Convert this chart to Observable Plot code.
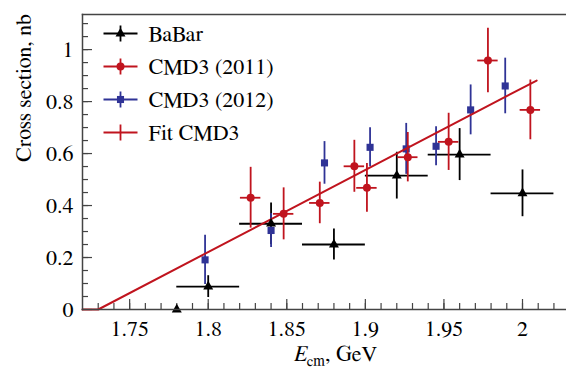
<!DOCTYPE html>
<html><head><meta charset="utf-8">
<script src="https://cdn.jsdelivr.net/npm/d3@7"></script>
<script src="https://cdn.jsdelivr.net/npm/@observablehq/plot@0.6"></script>
<style>body{margin:0;background:#fff} #chart{width:566px;height:370px} #chart svg, #chart svg text{font-family:"FreeSerif","Noto Serif CJK SC",serif !important}</style>
</head><body><div id="chart"></div>
<script>
// ---- data ----
const babarE    = [1.78, 1.80, 1.84, 1.88, 1.92, 1.96, 2.00];
const babarV    = [0.0, 0.088, 0.33, 0.25, 0.515, 0.596, 0.447];
const babarErr  = [0, 0.042, 0.08, 0.06, 0.09, 0.10, 0.09];
const babarEErr = [0, 0.02, 0.02, 0.02, 0.02, 0.02, 0.02];

const cmd11E    = [1.827, 1.848, 1.871, 1.893, 1.901, 1.927, 1.953, 1.978, 2.005];
const cmd11V    = [0.43, 0.368, 0.41, 0.551, 0.468, 0.586, 0.645, 0.958, 0.768];
const cmd11Err  = [0.117, 0.10, 0.08, 0.10, 0.094, 0.095, 0.11, 0.124, 0.115];
const cmd11EErr = [0.0065, 0.0065, 0.0065, 0.0065, 0.0065, 0.0065, 0.0065, 0.0065, 0.0065];

const cmd12E    = [1.798, 1.840, 1.874, 1.903, 1.926, 1.945, 1.967, 1.989];
const cmd12V    = [0.191, 0.304, 0.564, 0.624, 0.618, 0.628, 0.768, 0.86];
const cmd12Err  = [0.095, 0.065, 0.082, 0.075, 0.098, 0.075, 0.096, 0.107];

const fitE = [1.72, 1.73, 2.009];
const fitV = [0, 0, 0.881];

const xMajor = [1.75, 1.8, 1.85, 1.9, 1.95, 2];
const yMajor = [0, 0.2, 0.4, 0.6, 0.8, 1];
const xDomain = [1.72, 2.028];
const yDomain = [0, 1.135];

const legendLabels  = ["BaBar", "CMD3 (2011)", "CMD3 (2012)", "Fit CMD3"];
const legendSymbols = ["triangle", "circle", "square", null];

const xLabel = "Ecm, GeV";
const yLabel = "Cross section, nb";

// ---- styles ----
const FONT = "FreeSerif, 'Noto Serif CJK SC', serif";
const BLACK = "#000000", RED = "#c0141e", BLUE = "#2f3396", AXIS = "#444444";
const legendColors = [BLACK, RED, BLUE, RED];
const symbolR = {triangle: 3.7, circle: 4, square: 4};

// ---- tables ----
const babar = babarE.map((E, i) => ({E, v: babarV[i], dv: babarErr[i], dE: babarEErr[i]}));
const cmd11 = cmd11E.map((E, i) => ({E, v: cmd11V[i], dv: cmd11Err[i], dE: cmd11EErr[i]}));
const cmd12 = cmd12E.map((E, i) => ({E, v: cmd12V[i], dv: cmd12Err[i]}));
const fit = fitE.map((E, i) => ({E, v: fitV[i]}));

const xMinor = d3.range(173, 203).map(d => d / 100);
const yMinor = d3.range(1, 23).map(d => d / 20);

const frameH = 370 - 14 - 61, frameW = 566 - 82;

const crossSym = {draw(ctx) { ctx.moveTo(-17, 0); ctx.lineTo(17, 0); ctx.moveTo(0, -8); ctx.lineTo(0, 8); }};

function errMarks(data, color, withX) {
  const m = [
    Plot.ruleX(data.filter(d => d.dv > 0), {x: "E", y1: d => d.v - d.dv, y2: d => d.v + d.dv, stroke: color, strokeWidth: 1.8})
  ];
  if (withX) m.push(Plot.ruleY(data.filter(d => d.dE > 0), {y: "v", x1: d => d.E - d.dE, x2: d => d.E + d.dE, stroke: color, strokeWidth: 1.8}));
  return m;
}

const legendMarks = [];
legendLabels.forEach((lab, i) => {
  const dy = 19 + 33 * i;
  legendMarks.push(Plot.dot([0], {frameAnchor: "top-left", dx: 38, dy, symbol: crossSym, r: 5, stroke: legendColors[i], strokeWidth: 1.8, fill: "none"}));
  if (legendSymbols[i]) legendMarks.push(Plot.dot([0], {frameAnchor: "top-left", dx: 38, dy, symbol: legendSymbols[i], r: symbolR[legendSymbols[i]], fill: legendColors[i], stroke: "none"}));
  legendMarks.push(Plot.text([lab], {text: d => d, frameAnchor: "top-left", dx: 66, dy, textAnchor: "start", lineAnchor: "middle", fontSize: 22, fill: "black", fontFamily: FONT}));
});

const chart = Plot.plot({
  width: 566, height: 370,
  marginLeft: 82, marginRight: 0, marginTop: 14, marginBottom: 61,
  style: {fontSize: "22px", background: "white", color: "black"},
  x: {domain: xDomain},
  y: {domain: yDomain},
  marks: [
    Plot.ruleX(xMinor, {x: d => d, insetTop: frameH - 6, stroke: AXIS, strokeWidth: 1.2}),
    Plot.ruleX(xMajor, {x: d => d, insetTop: frameH - 10, stroke: AXIS, strokeWidth: 1.2}),
    Plot.ruleY(yMinor, {y: d => d, insetRight: frameW - 6, stroke: AXIS, strokeWidth: 1.2}),
    Plot.ruleY(yMajor, {y: d => d, insetRight: frameW - 10, stroke: AXIS, strokeWidth: 1.2}),
    Plot.axisX({ticks: xMajor, tickSize: 0, tickPadding: 11, tickFormat: d => String(d), label: null, fontSize: 22, fontFamily: FONT}),
    Plot.axisY({ticks: yMajor, tickSize: 0, tickPadding: 9, tickFormat: d => String(d), label: null, fontSize: 22, fontFamily: FONT}),
    ...errMarks(babar, BLACK, true),
    ...errMarks(cmd12, BLUE, false),
    Plot.dot(cmd12, {x: "E", y: "v", symbol: "square", r: symbolR.square, fill: BLUE}),
    Plot.line(fit, {x: "E", y: "v", stroke: RED, strokeWidth: 2}),
    ...errMarks(cmd11, RED, true),
    Plot.dot(cmd11, {x: "E", y: "v", symbol: "circle", r: symbolR.circle, fill: RED}),
    Plot.dot(babar, {x: "E", y: "v", symbol: "triangle", r: symbolR.triangle, fill: BLACK}),
    Plot.frame({anchor: "left", stroke: AXIS, strokeWidth: 1.5}),
    Plot.frame({anchor: "top", stroke: AXIS, strokeWidth: 1.5}),
    Plot.frame({anchor: "bottom", stroke: AXIS, strokeWidth: 1.5}),
    ...legendMarks,
    Plot.text([yLabel], {text: d => d, frameAnchor: "left", dx: -59, rotate: -90, fontSize: 22, fill: "black", fontFamily: FONT}),
    Plot.text([xLabel], {text: d => d, frameAnchor: "bottom", dx: 11, dy: 51, fontSize: 22, fill: "black", fontFamily: FONT})
  ]
});
chart.setAttribute("font-family", FONT);
document.getElementById("chart").appendChild(chart);

// x label: italic E with subscript "cm"
d3.select(chart).selectAll("text").filter(function() { return this.textContent === xLabel; }).each(function() {
  const t = d3.select(this);
  t.text(null);
  t.append("tspan").attr("font-style", "italic").text("E");
  t.append("tspan").attr("font-size", 15).attr("dy", 5).text("cm");
  t.append("tspan").attr("dy", -5).text(", GeV");
});
</script>
</body></html>
